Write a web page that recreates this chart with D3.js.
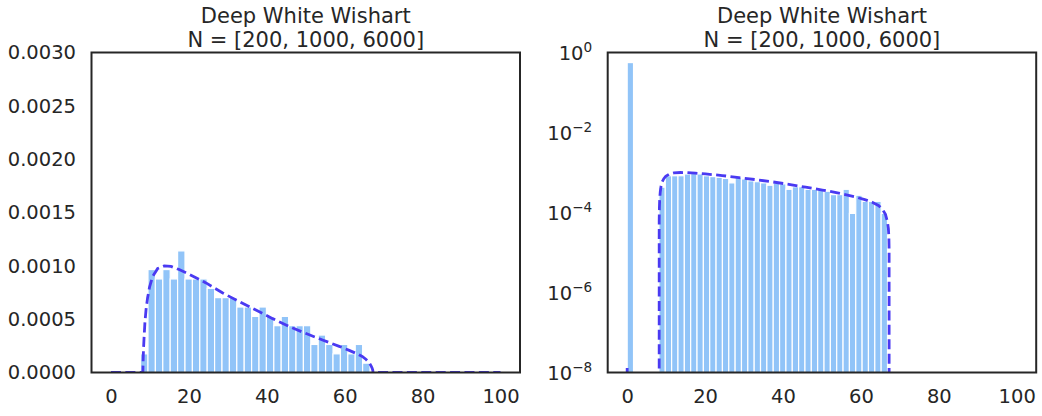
<!DOCTYPE html>
<html><head><meta charset="utf-8">
<script src="https://cdn.jsdelivr.net/npm/d3@7"></script>
<style>body{margin:0;background:#fff} svg text{font-family:"DejaVu Sans",sans-serif;fill:#262626}</style>
</head><body><svg id="c" width="1042" height="416"></svg>
<script>
// ---------------- data ----------------
const titleLines = ["Deep White Wishart", "N = [200, 1000, 6000]"];
const xTicks = [0, 20, 40, 60, 80, 100];
const linearTicks = [0, 0.0005, 0.001, 0.0015, 0.002, 0.0025, 0.003];
const logTicks = [1e-8, 1e-6, 1e-4, 1e-2, 1];
const logTickExponents = ["\u22128", "\u22126", "\u22124", "\u22122", "0"];

// left panel: histogram of the non-zero eigenvalues (density per bin)
const linBinStart = 7.6, linBinWidth = 1.9;
const linDensity = [0.000175, 0.000965, 0.000877, 0.000965, 0.000877, 0.00114, 0.000877, 0.000877,
  0.000877, 0.000789, 0.000702, 0.000702, 0.000702, 0.000614, 0.000614, 0.000526, 0.000614, 0.000526,
  0.000439, 0.000526, 0.000439, 0.000439, 0.000439, 0.000263, 0.000351, 0.000263, 0.000175, 0.000263,
  0.000175, 0.000263, 0.0000877];

// right panel: histogram of all eigenvalues (log scale)
const logBinWidth = 1.63;
const logBinIndex = [0, 5, 6, 7, 8, 9, 10, 11, 12, 13, 14, 15, 16, 17, 18, 19, 20, 21, 22, 23, 24, 25,
  26, 27, 28, 29, 30, 31, 32, 33, 34, 35, 36, 37, 38, 39, 40];
const logDensity = [0.56, 4.3e-4, 8.3e-4, 8.3e-4, 8.3e-4, 9.2e-4, 9.9e-4, 9.2e-4, 8.3e-4, 7.9e-4, 7.6e-4,
  7.1e-4, 5.5e-4, 7.6e-4, 6.9e-4, 6.2e-4, 5.9e-4, 5.5e-4, 4.8e-4, 5.5e-4, 5.2e-4, 3.8e-4, 4.4e-4,
  4.4e-4, 3.8e-4, 3.8e-4, 3.8e-4, 3.4e-4, 2.8e-4, 2.8e-4, 3.8e-4, 9.5e-5, 2.7e-4, 1.9e-4, 1.9e-4,
  1.9e-4, 9.5e-5];

// theoretical density curve
const curveX = [0, 0.12, 8.2, 8.22, 8.27, 8.35, 8.5, 8.7, 9.0, 9.4, 9.9, 10.7, 12.0, 13.7, 15.4, 17.5,
  20.1, 24.4, 28.7, 32.9, 37.2, 41.5, 45.8, 50.1, 54.3, 58.6, 61.0, 62.9, 64.5, 65.5, 66.3, 66.8, 67.05,
  67.18, 67.24, 67.27, 100];
const curveY = [1.3e-8, 0, 0, 6e-5, 1.3e-4, 2.2e-4, 3.3e-4, 4.6e-4, 5.9e-4, 7.0e-4, 8.0e-4, 9.0e-4,
  9.75e-4, 1.0e-3, 9.95e-4, 9.65e-4, 9.2e-4, 8.4e-4, 7.45e-4, 6.65e-4, 5.85e-4, 5.05e-4, 4.3e-4,
  3.65e-4, 3.05e-4, 2.45e-4, 2.1e-4, 1.8e-4, 1.5e-4, 1.22e-4, 9e-5, 6e-5, 4e-5, 2.5e-5, 1.2e-5, 0, 0];

// ---------------- style ----------------
const barColor = "#91c4f8", curveColor = "#4a3af2", ink = "#262626";
const yTop = 52.5, yBottom = 372.5;
const tickFont = 19.5, titleFont = 21;

const svg = d3.select("#c");
const curve = curveX.map((x, i) => ({x, y: curveY[i]}));

function panel(id, x0, x1, isLog) {
  const g = svg.append("g");
  const xs = d3.scaleLinear().domain([-5, 105]).range([x0, x1]);
  const ys = isLog ? d3.scaleLog().domain([1e-8, 1]).range([yBottom, yTop])
                   : d3.scaleLinear().domain([0, 0.003]).range([yBottom, yTop]);
  g.append("clipPath").attr("id", id).append("rect")
    .attr("x", x0).attr("y", yTop).attr("width", x1 - x0).attr("height", yBottom - yTop);
  const plot = g.append("g").attr("clip-path", `url(#${id})`);

  let bars;
  if (!isLog) {
    bars = linDensity.map((d, i) => ({a: linBinStart + i * linBinWidth, b: linBinStart + (i + 1) * linBinWidth, d}));
  } else {
    bars = logDensity.map((d, i) => ({a: logBinIndex[i] * logBinWidth, b: (logBinIndex[i] + 1) * logBinWidth, d}));
  }
  plot.selectAll("rect.bar").data(bars).join("rect").attr("class", "bar")
    .attr("x", d => xs(d.a)).attr("width", d => xs(d.b) - xs(d.a))
    .attr("y", d => ys(d.d)).attr("height", d => yBottom + 2 - ys(d.d))
    .attr("fill", barColor).attr("stroke", "#fff").attr("stroke-width", 1.2);

  const line = d3.line().x(d => xs(d.x)).y(d => isLog ? ys(d.y > 0 ? d.y : 1e-30) : ys(d.y));
  plot.append("path").datum(curve).attr("d", line)
    .attr("fill", "none").attr("stroke", curveColor).attr("stroke-width", 2.8)
    .attr("stroke-dasharray", "10,4.4");

  const xa = g.append("g").attr("transform", `translate(0,${yBottom})`)
    .call(d3.axisBottom(xs).tickValues(xTicks).tickSize(0).tickPadding(16.7));
  xa.select(".domain").remove();
  xa.selectAll("text").attr("font-size", tickFont).attr("font-family", "DejaVu Sans").style("fill", ink);

  if (!isLog) {
    const ya = g.append("g").attr("transform", `translate(${x0},0)`)
      .call(d3.axisLeft(ys).tickValues(linearTicks).tickFormat(d3.format(".4f")).tickSize(0).tickPadding(15.5));
    ya.select(".domain").remove();
    ya.selectAll("text").attr("font-size", tickFont).attr("font-family", "DejaVu Sans").style("fill", ink);
  } else {
    const ya = g.append("g");
    logTicks.forEach((t, i) => {
      const tx = ya.append("text").attr("x", x0 - 15.5).attr("y", ys(t) + 7.5)
        .attr("text-anchor", "end").attr("font-size", tickFont);
      tx.append("tspan").text("10");
      tx.append("tspan").attr("dy", -8.5).attr("font-size", 13.6).text(logTickExponents[i]);
    });
  }

  g.append("rect").attr("x", x0).attr("y", yTop).attr("width", x1 - x0).attr("height", yBottom - yTop)
    .attr("fill", "none").attr("stroke", ink).attr("stroke-width", 2);

  const cx = (x0 + x1) / 2;
  titleLines.forEach((t, i) => {
    g.append("text").attr("x", cx).attr("y", 22.5 + i * 24.5).attr("text-anchor", "middle")
      .attr("font-size", titleFont).text(t);
  });
}

panel("clipL", 91.5, 520, false);
panel("clipR", 607.7, 1036.2, true);
</script></body></html>
